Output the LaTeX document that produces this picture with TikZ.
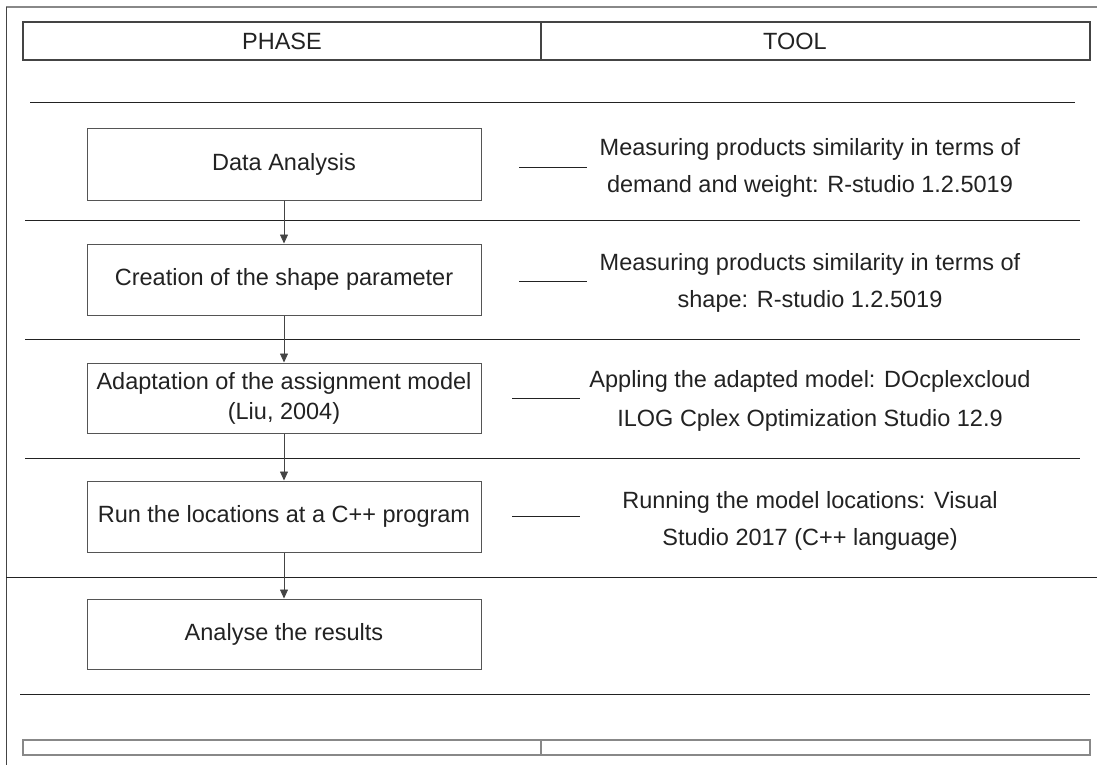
\documentclass[tikz,border=0pt]{standalone}
\usepackage{fontspec}
\setmainfont{Liberation Sans}
\usetikzlibrary{arrows.meta}

\definecolor{inkgray}{HTML}{222222}
\definecolor{boxgray}{HTML}{555555}
\definecolor{headgray}{HTML}{444444}
\definecolor{footgray}{HTML}{888888}

\tikzset{
  phasebox/.style={draw=boxgray, line width=1pt, minimum width=394pt, minimum height=71pt,
    align=center, text=inkgray, inner sep=0pt, font=\fontsize{23.5}{30}\selectfont},
  toolnote/.style={align=center, text=inkgray, inner sep=0pt, font=\fontsize{23.5}{37}\selectfont},
  headbox/.style={draw=headgray, line width=2.5pt, minimum height=38pt, inner sep=0pt},
  footbox/.style={draw=footgray, line width=2.5pt, minimum height=15pt, inner sep=0pt},
  sepline/.style={draw=inkgray, line width=0.8pt},
  flowarrow/.style={draw=headgray, line width=0.8pt, -{Triangle[length=9pt,width=8pt]}},
}

\begin{document}
\begin{tikzpicture}[x=1pt, y=-1pt, font=\fontsize{23.5}{30}\selectfont]
            \useasboundingbox (0,0) rectangle (1097,765);

            % frame
            \draw[footgray, line width=1.2pt] (6,7) -- (1097,7);
            \draw[headgray, line width=1pt] (6,7) -- (6,765);

            % header
            \node[headbox, minimum width=518pt] (phasehead) at (282,41) {};
            \node[headbox, minimum width=549pt] (toolhead) at (815.5,41) {};
            \node[text=inkgray] (phasetitle) at (282,41) {PHASE};
            \node[text=inkgray] (tooltitle) at (795,41) {TOOL};

            % rows
            \draw[sepline] (30,102) -- (1075,102);
            \draw[sepline] (25,220) -- (1080,220);
            \draw[sepline] (25,339) -- (1080,339);
            \draw[sepline] (25,458) -- (1080,458);
            \draw[sepline] (6,577) -- (1097,577);
            \draw[sepline] (20,694) -- (1090,694);

            % phases
            \node[phasebox] (data) at (284,164.5) {Data Analysis};
            \node[phasebox] (shape) at (284,279.5) {Creation of the shape parameter};
            \node[phasebox, minimum height=70pt] (adapt) at (284,398) {Adaptation of the assignment model\\(Liu, 2004)};
            \node[phasebox] (run) at (284,516.5) {Run the locations at a C++ program};
            \node[phasebox, minimum height=70pt] (analyse) at (284,634) {Analyse the results};

            \draw[flowarrow] (data) -- (shape);
            \draw[flowarrow] (shape) -- (adapt);
            \draw[flowarrow] (adapt) -- (run);
            \draw[flowarrow] (run) -- (analyse);

            % tools
            \draw[sepline] (519,167) -- (587,167);
            \draw[sepline] (519,281) -- (587,281);
            \draw[sepline] (512,398) -- (580,398);
            \draw[sepline] (512,516) -- (580,516);

            \node[toolnote] (tooldata) at (810,168) {Measuring products similarity in terms of\\demand and weight: R-studio 1.2.5019};
            \node[toolnote] (toolshape) at (810,283) {Measuring products similarity in terms of\\shape: R-studio 1.2.5019};
            \node[toolnote, font=\fontsize{23.5}{39}\selectfont] (tooladapt) at (810,401) {Appling the adapted model: DOcplexcloud\\ILOG Cplex Optimization Studio 12.9};
            \node[toolnote] (toolrun) at (810,521) {Running the model locations: Visual\\Studio 2017 (C++ language)};

            % footer
            \node[footbox, minimum width=518pt] (phasefoot) at (282,747.5) {};
            \node[footbox, minimum width=549pt] (toolfoot) at (815.5,747.5) {};
        \end{tikzpicture}
\end{document}
